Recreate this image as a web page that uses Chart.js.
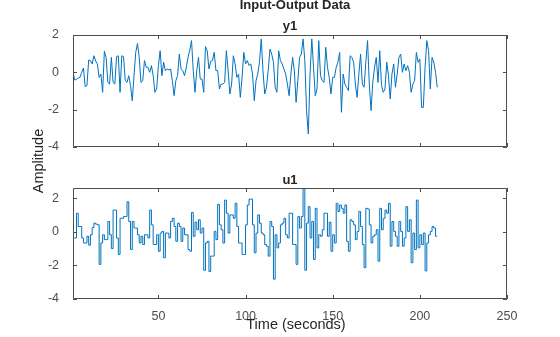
<!DOCTYPE html>
<html>
<head>
<meta charset="utf-8">
<script src="https://cdn.jsdelivr.net/npm/chart.js@4.4.0/dist/chart.umd.min.js"></script>
<style>
  body { margin: 0; background: #fff; }
  #wrap { position: relative; width: 560px; height: 337px; overflow: hidden; font-family: "Liberation Sans", Arial, sans-serif; color: #262626; }
  canvas { position: absolute; left: 0; }
  .lbl { position: absolute; white-space: nowrap; text-align: center; }
  .ttl { font-weight: bold; font-size: 13px; line-height: 16px; width: 200px; }
  .axt { font-size: 14.5px; line-height: 18px; width: 120px; }
</style>
</head>
<body>
<div id="wrap">
  <canvas id="topChart" width="560" height="168" style="top:0"></canvas>
  <canvas id="bottomChart" width="560" height="169" style="top:168px"></canvas>
  <div class="lbl ttl" style="left:195px; top:-3px;">Input-Output Data</div>
  <div class="lbl ttl" style="left:190px; top:18px;">y1</div>
  <div class="lbl ttl" style="left:190px; top:172px;">u1</div>
  <div class="lbl axt" style="left:-22px; top:152px; transform:rotate(-90deg);">Amplitude</div>
  <div class="lbl axt" style="left:236px; top:315px;">Time (seconds)</div>
</div>
<script>
// output y1, one value per second, t = 1..210
const y1Values = [
  0, -0.41, -0.38, -0.3, -0.27, 0, 0.23, -0.77, -0.71, 0.66,
  0.63, 0.45, 0.89, 0.6, 0.45, -0.27, -0.09, -1.07, 1.13, 0.8,
  -0.54, -0.63, 0.8, -0.54, -0.63, 0.84, 0.89, -1.07, 0.89, 0.84,
  -0.45, -0.54, -0.18, -0.71, -1.52, -0.18, 1.07, 1.55, 0.8, -0.54,
  -0.45, 0.63, 0.27, 0.27, 0, 0.36, -0.18, -1.07, -0.89, 0.36,
  1.16, -0.18, 0.54, 0.09, 0.18, 0.13, 0.18, -0.45, -1.25, -0.45,
  -0.18, 0.98, 0.18, 0.09, -0.18, 0.27, 0.8, 1.2, 1.7, 0.09,
  -1.07, 0.09, 0.8, -0.36, -0.36, -1.07, 1.38, 1.16, 0.18, 0.59,
  0.63, 1.07, 0.09, 0.09, -0.89, -0.63, -0.63, -0.54, 1.16, 0.09,
  -1.16, -0.63, 0.89, 0.45, -0.27, -0.09, -1.34, -0.27, 1.07, 0.45,
  0.63, 0.36, 0.45, -0.09, -1.52, -0.45, -0.09, 0.54, 1.79, 0.09,
  -1.16, -0.8, 0.09, 1.25, 0.98, 0.54, -0.8, -1.07, 1.16, 0.63,
  0.45, 0.18, -0.09, -0.63, -1.25, -0.09, 0.8, 0.09, -1.61, -0.45,
  0.8, 0.98, 1.79, 0.63, -2.05, -3.3, -0.09, 1.79, 0.27, -1.25,
  -0.89, 1.7, -0.18, -0.45, -0.54, 1.34, 0.27, -0.27, -1.16, -0.27,
  -0.27, 0.27, 0.54, 1.07, -2.14, -0.09, -0.63, -0.8, -0.98, 0.89,
  0.8, 0.54, -0.63, -1.34, -0.09, 0.98, -0.63, -0.8, 0.54, 1.7,
  -0.63, -2.05, -0.54, 0.27, 0.8, -0.54, 1.16, -0.71, -1.07, -0.89,
  0.54, -0.18, -1.43, -0.09, 0.45, -0.8, -0.09, 0.8, 0.98, 0,
  0.45, 0.09, 0.36, 0, -1.07, -0.63, -0.45, 1.07, 0.54, 0.71,
  -1.88, -1.88, 0.27, 1.7, 1.16, -0.89, 0.8, 0.54, 0, -0.8
];
// input u1 (zero order hold), t = 1..210
const u1Values = [
  0.9, -0.37, -0.37, 1.1, 0.31, 0.31, -0.37, -0.67, -0.67, -0.27,
  -0.8, -0.18, 0.25, 0.51, 0.45, 0.41, -1.94, -0.67, -0.18, -0.47,
  -0.47, 0.61, -0.18, -1.0, 1.29, 1.29, -0.37, -1.35, 0.8, 0.8,
  0.9, 0.9, 1.78, 0.61, -1.06, 0.61, 0.22, 0.22, -0.18, -0.67,
  -0.27, -0.76, -0.18, -0.18, -0.37, 1.29, 0.41, -0.76, -0.76, -0.18,
  -1.16, -0.08, 0.02, -1.55, -0.08, -0.08, -0.37, 0.61, 0.8, 0.31,
  -0.57, 0.51, 0.31, -0.57, 0.22, -0.18, -0.18, -1.06, -1.16, 1.14,
  -0.27, 0.57, 0.12, 0.71, -0.08, 0.22, -2.29, -0.67, -0.57, -2.37,
  -1.45, -1.45, 0.02, -0.47, 1.63, 0.41, 0.12, -0.67, 1.88, 1.1,
  -0.08, 1.0, 1.0, 0.8, 1.69, 0.31, -0.67, -0.67, -1.35, -1.35,
  0.41, 1.59, 1.94, 1.94, 0.41, -1.25, -0.08, 1.0, 0.51, -0.08,
  -0.18, -0.76, -0.86, -1.45, 0.61, 0.31, -2.82, -0.18, -0.96, -0.67,
  0.41, 0.51, 0.8, -0.18, -0.37, 1.1, 1.1, -0.76, -0.76, -1.94,
  0.9, 0.22, 0.9, 2.6, -2.29, 0.51, 1.49, -0.37, 0.61, -1.65,
  1.39, -0.96, -0.18, -0.27, 0.12, 1.1, 1.1, -0.27, 0.57, -1.16,
  -0.18, -0.67, 1.69, 1.2, 1.59, 1.39, 1.1, 1.59, -0.57, -1.16,
  0.71, 0.61, 0.41, -0.47, 0.02, 1.2, 0.31, -0.76, -2.14, 1.39,
  1.35, 0.41, -0.67, -0.27, -0.18, 0.12, -1.75, 1.39, 0.12, 0.8,
  1.29, 1.1, 1.69, -0.86, 0.61, 0.02, -0.27, -0.86, 0.61, 0.02,
  -0.86, -0.37, 1.49, 0.02, 0.71, -1.84, -0.08, -1.06, 1.88, -0.96,
  -0.18, -0.76, -0.08, -2.33, -0.67, -0.18, 0.02, 0.31, 0.22, -0.27
];
const startTime = 1;
const sampleTime = 1;
const xTicks = [50, 100, 150, 200, 250];
const yTicks = [-4, -2, 0, 2];
const xRange = [1, 250];
const y1Range = [-4, 2];
const u1Range = [-4, 2.6];

const lineColor = "#0072BD";
const axisColor = "#4d4d4d";
const tickColor = "#4d4d4d";

function toPoints(values) {
  return values.map(function (v, i) {
    return { x: startTime + i * sampleTime, y: v };
  });
}

// MATLAB style box with inward ticks on all four sides
const boxPlugin = {
  id: "box",
  afterDatasetsDraw: function (chart) {
    const ctx = chart.ctx;
    const a = chart.chartArea;
    const len = 4;
    ctx.save();
    ctx.strokeStyle = axisColor;
    ctx.lineWidth = 1;
    ctx.beginPath();
    ctx.rect(Math.round(a.left) + 0.5, Math.round(a.top) + 0.5, Math.round(a.right - a.left) - 1, Math.round(a.bottom - a.top) - 1);
    chart.scales.x.ticks.forEach(function (t) {
      const px = Math.round(chart.scales.x.getPixelForValue(t.value)) + 0.5;
      ctx.moveTo(px, a.bottom); ctx.lineTo(px, a.bottom - len);
      ctx.moveTo(px, a.top); ctx.lineTo(px, a.top + len);
    });
    chart.scales.y.ticks.forEach(function (t) {
      const py = Math.round(chart.scales.y.getPixelForValue(t.value)) + 0.5;
      ctx.moveTo(a.left, py); ctx.lineTo(a.left + len, py);
      ctx.moveTo(a.right, py); ctx.lineTo(a.right - len, py);
    });
    ctx.stroke();
    ctx.restore();
  }
};

function makeChart(id, values, yRange, stepped, showX, padding) {
  const ctx = document.getElementById(id).getContext("2d");
  return new Chart(ctx, {
    type: "line",
    data: {
      datasets: [{
        data: toPoints(values),
        borderColor: lineColor,
        borderWidth: 1,
        pointRadius: 0,
        stepped: stepped ? "after" : false,
        tension: 0
      }]
    },
    options: {
      responsive: false,
      animation: false,
      layout: { padding: padding },
      plugins: { legend: { display: false }, title: { display: false }, tooltip: { enabled: false } },
      scales: {
        x: {
          type: "linear",
          min: xRange[0],
          max: xRange[1],
          grid: { display: false },
          border: { display: false },
          afterBuildTicks: function (s) { s.ticks = xTicks.map(function (v) { return { value: v }; }); },
          afterFit: function (s) { s.height = showX ? 38 : 0; },
          ticks: {
            display: showX,
            maxRotation: 0,
            padding: 2,
            color: tickColor,
            font: { family: "Liberation Sans", size: 12.5 }
          }
        },
        y: {
          min: yRange[0],
          max: yRange[1],
          grid: { display: false },
          border: { display: false },
          afterBuildTicks: function (s) { s.ticks = yTicks.map(function (v) { return { value: v }; }); },
          afterFit: function (s) { s.width = 30; },
          ticks: {
            padding: 6,
            color: tickColor,
            font: { family: "Liberation Sans", size: 12.5 }
          }
        }
      }
    },
    plugins: [boxPlugin]
  });
}

const topChart = makeChart("topChart", y1Values, y1Range, false, false, { left: 43, right: 53, top: 35, bottom: 21 });
const bottomChart = makeChart("bottomChart", u1Values, u1Range, true, true, { left: 43, right: 53, top: 20, bottom: 0 });
</script>
</body>
</html>
